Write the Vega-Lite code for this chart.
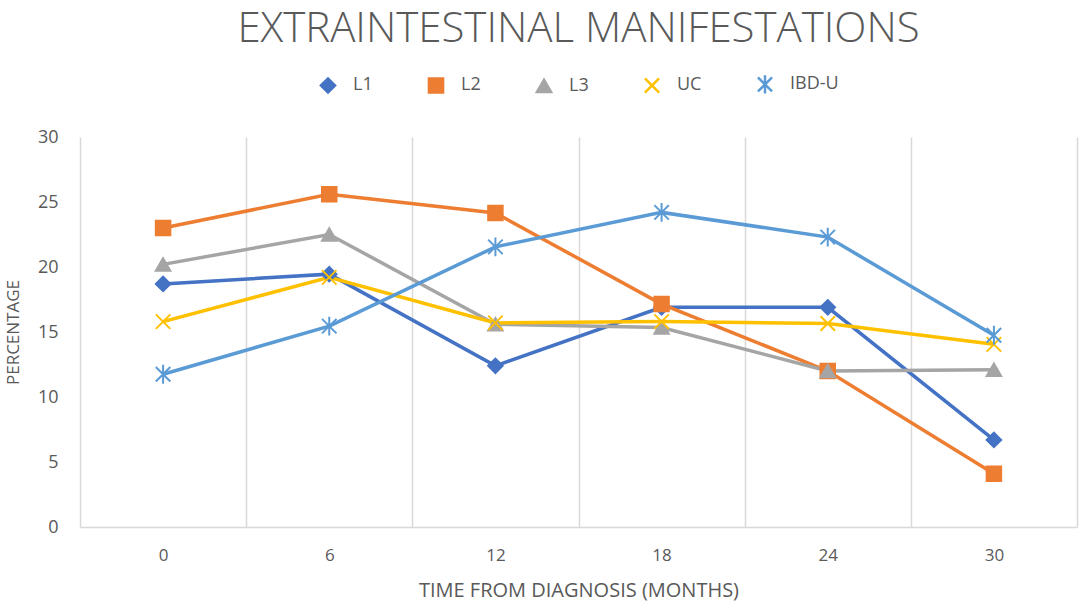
{
  "$schema": "https://vega.github.io/schema/vega-lite/v6.json",
  "width": 997,
  "height": 390,
  "autosize": {"type": "none"},
  "padding": {"left": 80, "top": 137, "right": 7, "bottom": 78},
  "background": "white",
  "title": {
    "text": "EXTRAINTESTINAL  MANIFESTATIONS",
    "font": "Open Sans",
    "fontSize": 42,
    "fontWeight": 300,
    "color": "#595959",
    "anchor": "middle",
    "offset": 24
  },
  "data": {
    "values": [
      {"series": "L1", "month": 0, "pct": 18.7},
      {"series": "L1", "month": 6, "pct": 19.45},
      {"series": "L1", "month": 12, "pct": 12.4},
      {"series": "L1", "month": 18, "pct": 16.9},
      {"series": "L1", "month": 24, "pct": 16.9},
      {"series": "L1", "month": 30, "pct": 6.7},
      {"series": "L2", "month": 0, "pct": 23.0},
      {"series": "L2", "month": 6, "pct": 25.6},
      {"series": "L2", "month": 12, "pct": 24.15},
      {"series": "L2", "month": 18, "pct": 17.15},
      {"series": "L2", "month": 24, "pct": 12.0},
      {"series": "L2", "month": 30, "pct": 4.1},
      {"series": "L3", "month": 0, "pct": 20.2},
      {"series": "L3", "month": 6, "pct": 22.5},
      {"series": "L3", "month": 12, "pct": 15.6},
      {"series": "L3", "month": 18, "pct": 15.35},
      {"series": "L3", "month": 24, "pct": 12.0},
      {"series": "L3", "month": 30, "pct": 12.1},
      {"series": "UC", "month": 0, "pct": 15.8},
      {"series": "UC", "month": 6, "pct": 19.2},
      {"series": "UC", "month": 12, "pct": 15.7},
      {"series": "UC", "month": 18, "pct": 15.8},
      {"series": "UC", "month": 24, "pct": 15.65},
      {"series": "UC", "month": 30, "pct": 14.05},
      {"series": "IBD-U", "month": 0, "pct": 11.75},
      {"series": "IBD-U", "month": 6, "pct": 15.45},
      {"series": "IBD-U", "month": 12, "pct": 21.55},
      {"series": "IBD-U", "month": 18, "pct": 24.2},
      {"series": "IBD-U", "month": 24, "pct": 22.3},
      {"series": "IBD-U", "month": 30, "pct": 14.75}
    ]
  },
  "encoding": {
    "x": {
      "field": "month",
      "type": "quantitative",
      "scale": {"domain": [-3, 33], "nice": false, "zero": false},
      "axis": {
        "values": [-3, 0, 3, 6, 9, 12, 15, 18, 21, 24, 27, 30, 33],
        "labelExpr": "datum.value % 6 === 0 ? datum.label : ''",
        "ticks": false,
        "grid": true,
        "gridColor": "#d9d9d9",
        "gridWidth": 1.5,
        "gridOpacity": {"condition": {"test": "datum.value % 6 === 0", "value": 0}, "value": 1},
        "domainColor": "#d9d9d9",
        "domainWidth": 1.5,
        "labelFont": "Open Sans",
        "labelFontSize": 17,
        "labelColor": "#595959",
        "labelPadding": 20,
        "labelFlush": false,
        "labelOverlap": false,
        "title": "TIME FROM DIAGNOSIS (MONTHS)",
        "titleFont": "Open Sans",
        "titleFontSize": 20,
        "titleFontWeight": "normal",
        "titleColor": "#595959",
        "titlePadding": 17
      }
    },
    "y": {
      "field": "pct",
      "type": "quantitative",
      "scale": {"domain": [0, 30], "nice": false},
      "axis": {
        "values": [0, 5, 10, 15, 20, 25, 30],
        "domain": false,
        "ticks": false,
        "grid": false,
        "labelFont": "Open Sans",
        "labelFontSize": 18,
        "labelColor": "#595959",
        "labelPadding": 22,
        "title": "PERCENTAGE",
        "titleFont": "Open Sans",
        "titleFontSize": 17,
        "titleFontWeight": "normal",
        "titleColor": "#595959",
        "titlePadding": 15
      }
    },
    "color": {
      "field": "series",
      "type": "nominal",
      "scale": {
        "domain": ["L1", "L2", "L3", "UC", "IBD-U"],
        "range": ["#4472C4", "#ED7D31", "#A5A5A5", "#FFC000", "#5B9BD5"]
      },
      "legend": {
        "title": null,
        "orient": "top",
        "direction": "horizontal",
        "offset": 38,
        "labelFont": "Open Sans",
        "labelFontSize": 18,
        "labelColor": "#595959",
        "labelOffset": 16,
        "symbolSize": 200,
        "symbolStrokeWidth": 2.5,
        "columnPadding": 50
      }
    }
  },
  "layer": [
    {
      "mark": {"type": "line", "strokeWidth": 3.5}
    },
    {
      "mark": {"type": "point", "filled": false, "size": 210, "strokeWidth": 2, "opacity": 1},
      "encoding": {
        "shape": {
          "field": "series",
          "type": "nominal",
          "scale": {
            "domain": ["L1", "L2", "L3", "UC", "IBD-U"],
            "range": ["diamond", "square", "triangle-up", "M-1,-1L1,1M-1,1L1,-1", "M-1,-1L1,1M-1,1L1,-1M0,-1.3L0,1.3"]
          },
          "legend": null
        },
        "fill": {
          "field": "series",
          "type": "nominal",
          "scale": {
            "domain": ["L1", "L2", "L3", "UC", "IBD-U"],
            "range": ["#4472C4", "#ED7D31", "#A5A5A5", "#FFC000", "#5B9BD5"]
          },
          "legend": null
        }
      }
    }
  ],
  "config": {
    "view": {"stroke": null},
    "legend": {"layout": {"top": {"anchor": "middle"}}}
  }
}
